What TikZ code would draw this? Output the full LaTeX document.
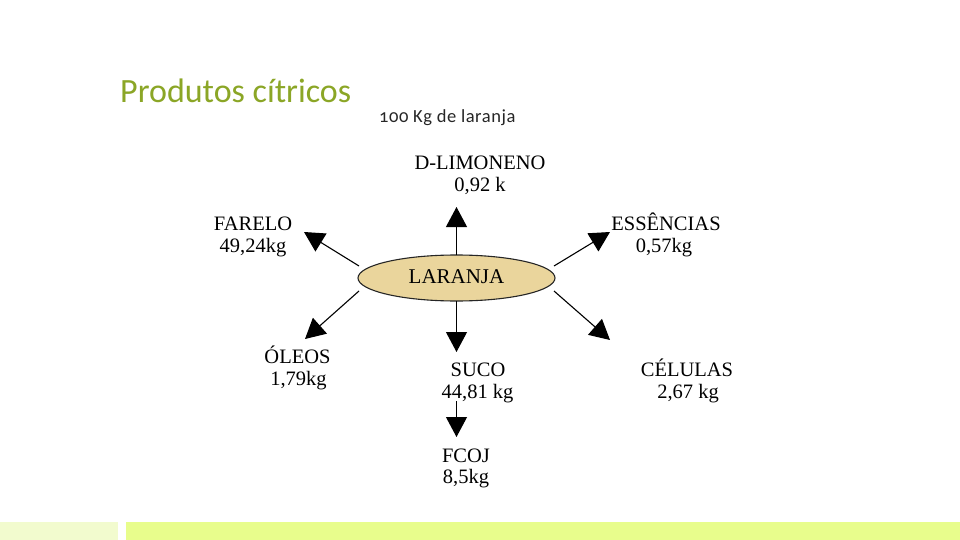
\documentclass[tikz,border=0pt]{standalone}
\usepackage{fontspec}
\setmainfont{Liberation Serif}
\newfontfamily\titlefont{Carlito}
\usetikzlibrary{shapes.geometric,arrows.meta}
\definecolor{titlegreen}{HTML}{8BA626}
\definecolor{tan}{HTML}{EAD59C}
\definecolor{barlight}{HTML}{F2FBCE}
\definecolor{barlime}{HTML}{E8FD8C}
\tikzset{
  lbl/.style={anchor=base, inner sep=0pt, font=\fontsize{20.5}{22}\selectfont, text=black},
  arr/.style={line width=1.1pt, -{Triangle[length=20pt,width=21pt]}},
}
\begin{document}
\begin{tikzpicture}[x=1pt,y=-1pt]
\useasboundingbox (0,0) rectangle (960,540);
\fill[white] (0,0) rectangle (960,540);
% bottom bars
\fill[barlight] (0,522) rectangle (118,540);
\fill[barlime] (126,522) rectangle (960,540);
% titles
\node[anchor=base west, inner sep=0pt, text=titlegreen, font=\titlefont\fontsize{34}{40}\selectfont] (title) at (120,103) {Produtos cítricos};
\node[anchor=base west, inner sep=0pt, text=black!85, font=\titlefont\fontsize{18.5}{20}\selectfont\addfontfeatures{Numbers=OldStyle,LetterSpace=3}] (sub) at (379,123) {100 Kg de laranja};
% central ellipse
\node[ellipse, draw=black!85, line width=1.1pt, fill=tan, minimum width=197pt, minimum height=46pt, inner sep=0pt, font=\fontsize{21}{22}\selectfont] (lar) at (456.5,278) {\raisebox{2pt}{LARANJA}};
% labels
\node[lbl] (lim) at (480,170) {D-LIMONENO};
\node[lbl] (limv) at (480,191) {0,92 k};
\node[lbl] (far) at (253,230) {FARELO};
\node[lbl] (farv) at (253,252) {49,24kg};
\node[lbl] (ess) at (666,230) {ESSÊNCIAS};
\node[lbl] (essv) at (664,252) {0,57kg};
\node[lbl] (ole) at (297.5,363) {ÓLEOS};
\node[lbl] (olev) at (298.5,385) {1,79kg};
\node[lbl] (suc) at (478,376) {SUCO};
\node[lbl] (sucv) at (477.5,398) {44,81 kg};
\node[lbl] (cel) at (687,376) {CÉLULAS};
\node[lbl] (celv) at (688,398) {2,67 kg};
\node[lbl] (fco) at (466,462) {FCOJ};
\node[lbl] (fcov) at (466,483) {8,5kg};
% arrow ends
\coordinate (sLim) at (456.5,255);
\coordinate (tLim) at (456.5,207);
\coordinate (sFar) at (359,266);
\coordinate (tFar) at (304,232);
\coordinate (sEss) at (554,266);
\coordinate (tEss) at (610,232);
\coordinate (sOle) at (359,291);
\coordinate (tOle) at (305,339);
\coordinate (sSuc) at (456.5,301);
\coordinate (tSuc) at (456.5,352);
\coordinate (sCel) at (554,291);
\coordinate (tCel) at (610,340);
\coordinate (sFco) at (456.5,401);
\coordinate (tFco) at (456.5,437);
\draw[arr] (sLim) -- (tLim);
\draw[arr] (sFar) -- (tFar);
\draw[arr] (sEss) -- (tEss);
\draw[arr] (sOle) -- (tOle);
\draw[arr] (sSuc) -- (tSuc);
\draw[arr] (sCel) -- (tCel);
\draw[arr] (sFco) -- (tFco);
\end{tikzpicture}
\end{document}
